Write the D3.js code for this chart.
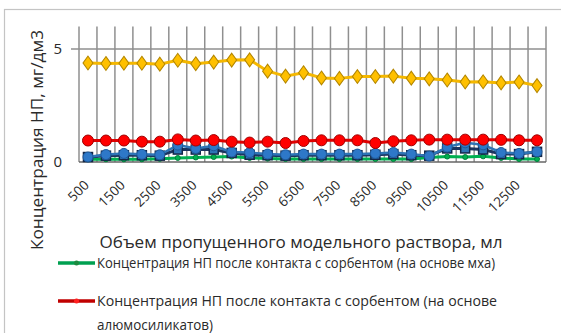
<!DOCTYPE html>
<html>
<head>
<meta charset="utf-8">
<script src="https://cdn.jsdelivr.net/npm/d3@7/dist/d3.min.js"></script>
<style>
  html, body { margin: 0; padding: 0; background: #fff; }
  svg { display: block; }
  text { font-family: "Open Sans", "DejaVu Sans", sans-serif; fill: #2a2a2a; }
</style>
</head>
<body>
<svg id="chart" width="561" height="333"></svg>
<script>
// Volume of model solution passed through, ml
const categories = [500, 1000, 1500, 2000, 2500, 3000, 3500, 4000, 4500, 5000, 5500, 6000, 6500,
  7000, 7500, 8000, 8500, 9000, 9500, 10000, 10500, 11000, 11500, 12000, 12500, 13000];
const xTickLabels = ["500", "1500", "2500", "3500", "4500", "5500", "6500", "7500", "8500",
  "9500", "10500", "11500", "12500"];
const yTicks = [0, 5];

// Oil-product concentration, mg/dm3
const initialConc = [4.38, 4.36, 4.37, 4.37, 4.33, 4.50, 4.35, 4.42, 4.51, 4.52, 4.02, 3.80, 3.95,
  3.72, 3.70, 3.78, 3.78, 3.80, 3.71, 3.68, 3.63, 3.54, 3.55, 3.50, 3.54, 3.38];
const alumConc = [0.95, 0.95, 0.95, 0.90, 0.90, 1.00, 0.95, 0.97, 0.90, 0.86, 0.90, 0.84, 0.93,
  0.96, 0.96, 0.96, 0.84, 0.92, 0.96, 0.99, 0.99, 0.99, 0.99, 0.98, 0.96, 0.96];
const navyConc = [0.22, 0.28, 0.30, 0.30, 0.28, 0.55, 0.55, 0.55, 0.40, 0.32, 0.30, 0.28, 0.30,
  0.30, 0.30, 0.30, 0.32, 0.35, 0.30, 0.28, 0.60, 0.60, 0.55, 0.35, 0.35, 0.45];
const blueConc = [0.22, 0.33, 0.38, 0.34, 0.32, 0.75, 0.60, 0.72, 0.44, 0.42, 0.35, 0.32, 0.35,
  0.35, 0.35, 0.35, 0.38, 0.42, 0.35, 0.26, 0.66, 0.85, 0.76, 0.42, 0.38, 0.45];
const mossConc = [0.12, 0.12, 0.12, 0.12, 0.14, 0.18, 0.20, 0.22, 0.24, 0.18, 0.15, 0.13, 0.13,
  0.13, 0.13, 0.13, 0.13, 0.13, 0.13, 0.20, 0.24, 0.22, 0.25, 0.18, 0.13, 0.13];

const legendLabels = [
  ["Концентрация НП после контакта с сорбентом (на основе мха)"],
  ["Концентрация НП после контакта с сорбентом (на основе", "алюмосиликатов)"]
];

const svg = d3.select("#chart");

// outer chart frame
svg.append("rect")
  .attr("x", 4.5).attr("y", 9.5).attr("width", 700).attr("height", 400)
  .attr("fill", "none").attr("stroke", "#c4c4c4").attr("stroke-width", 1.2);

const plot = { left: 79, right: 546, top: 26.4, bottom: 162 };

const x = d3.scaleBand().domain(categories).range([plot.left, plot.right]).padding(0);
const y = d3.scaleLinear().domain([0, 6]).range([plot.bottom, plot.top]);
const cx = d => x(d) + x.bandwidth() / 2;

// vertical gridlines on category boundaries
const bounds = categories.map(c => x(c)).concat([plot.right]);
svg.append("g").selectAll("line").data(bounds).join("line")
  .attr("x1", d => d).attr("x2", d => d)
  .attr("y1", plot.top).attr("y2", plot.bottom)
  .attr("stroke", "#8f8f8f").attr("stroke-width", 1.5);

// horizontal gridline at 5
svg.append("line")
  .attr("x1", plot.left - 8).attr("x2", plot.right)
  .attr("y1", y(5)).attr("y2", y(5))
  .attr("stroke", "#8f8f8f").attr("stroke-width", 1.5);

// category axis
svg.append("line")
  .attr("x1", plot.left).attr("x2", plot.right)
  .attr("y1", y(0)).attr("y2", y(0))
  .attr("stroke", "#666").attr("stroke-width", 1.5);

// y tick labels
svg.append("g").selectAll("text").data(yTicks).join("text")
  .attr("x", 62).attr("y", d => y(d) + 5)
  .attr("text-anchor", "end")
  .attr("font-size", 15)
  .text(d => d);

// x tick labels, every other category, rotated
svg.append("g").selectAll("text").data(xTickLabels).join("text")
  .attr("transform", d => `translate(${cx(+d) + 2},${186}) rotate(-45)`)
  .attr("text-anchor", "end")
  .attr("font-size", 13.5)
  .text(d => d);

// axis titles
svg.append("text")
  .attr("x", 301).attr("y", 248)
  .attr("text-anchor", "middle")
  .attr("font-size", 16)
  .attr("textLength", 403).attr("lengthAdjust", "spacingAndGlyphs")
  .text("Объем пропущенного модельного раствора, мл");

svg.append("text")
  .attr("transform", "translate(43,140) rotate(-90)")
  .attr("text-anchor", "middle")
  .attr("font-size", 16)
  .attr("textLength", 220).attr("lengthAdjust", "spacingAndGlyphs")
  .text("Концентрация НП, мг/дм3");

const line = d3.line().x((d, i) => cx(categories[i])).y(d => y(d));

function drawLine(values, color, width) {
  svg.append("path").datum(values)
    .attr("d", line)
    .attr("fill", "none")
    .attr("stroke", color)
    .attr("stroke-width", width)
    .attr("stroke-linejoin", "round");
}

// moss-based sorbent
drawLine(mossConc, "#00b050", 3);
svg.append("g").selectAll("circle").data(mossConc).join("circle")
  .attr("cx", (d, i) => cx(categories[i])).attr("cy", d => y(d))
  .attr("r", 2.5).attr("fill", "#00b050").attr("stroke", "#00803a");

// dark series with square markers
drawLine(navyConc, "#1a3560", 3);
svg.append("g").selectAll("rect").data(navyConc).join("rect")
  .attr("x", (d, i) => cx(categories[i]) - 4.5).attr("y", d => y(d) - 4.5)
  .attr("width", 9).attr("height", 9)
  .attr("fill", "#2e75b6").attr("stroke", "#14284a").attr("stroke-width", 1.5);

// blue series with round markers
drawLine(blueConc, "#2e75b6", 2.5);
svg.append("g").selectAll("circle").data(blueConc).join("circle")
  .attr("cx", (d, i) => cx(categories[i])).attr("cy", d => y(d))
  .attr("r", 5).attr("fill", "#2e78c8").attr("stroke", "#1f5a9a").attr("stroke-width", 1);

// aluminosilicate-based sorbent
drawLine(alumConc, "#e00000", 3);
svg.append("g").selectAll("circle").data(alumConc).join("circle")
  .attr("cx", (d, i) => cx(categories[i])).attr("cy", d => y(d))
  .attr("r", 5.5).attr("fill", "#ff0000").attr("stroke", "#a00000").attr("stroke-width", 1);

// initial concentration, diamonds
drawLine(initialConc, "#f5b800", 3);
const diamond = d3.symbol().type(d3.symbolDiamond).size(55);
svg.append("g").selectAll("path").data(initialConc).join("path")
  .attr("transform", (d, i) => `translate(${cx(categories[i])},${y(d)}) scale(1.25,1)`)
  .attr("d", diamond)
  .attr("fill", "#ffc000").attr("stroke", "#b38600").attr("stroke-width", 0.9);

// legend
const legend = [
  { color: "#00a050", dot: "#1c8a40", y: 263, lines: legendLabels[0], widths: [398] },
  { color: "#c00000", dot: "#ff2020", y: 301, lines: legendLabels[1], widths: [400, 116] }
];
legend.forEach(item => {
  svg.append("line")
    .attr("x1", 58).attr("x2", 95).attr("y1", item.y).attr("y2", item.y)
    .attr("stroke", item.color).attr("stroke-width", 3.5);
  svg.append("circle").attr("cx", 76.5).attr("cy", item.y).attr("r", 2.5)
    .attr("fill", item.dot);
  item.lines.forEach((t, k) => {
    svg.append("text")
      .attr("x", 97).attr("y", item.y + 5 + k * 24)
      .attr("font-size", 14)
      .attr("textLength", item.widths[k]).attr("lengthAdjust", "spacingAndGlyphs")
      .text(t);
  });
});
</script>
</body>
</html>
